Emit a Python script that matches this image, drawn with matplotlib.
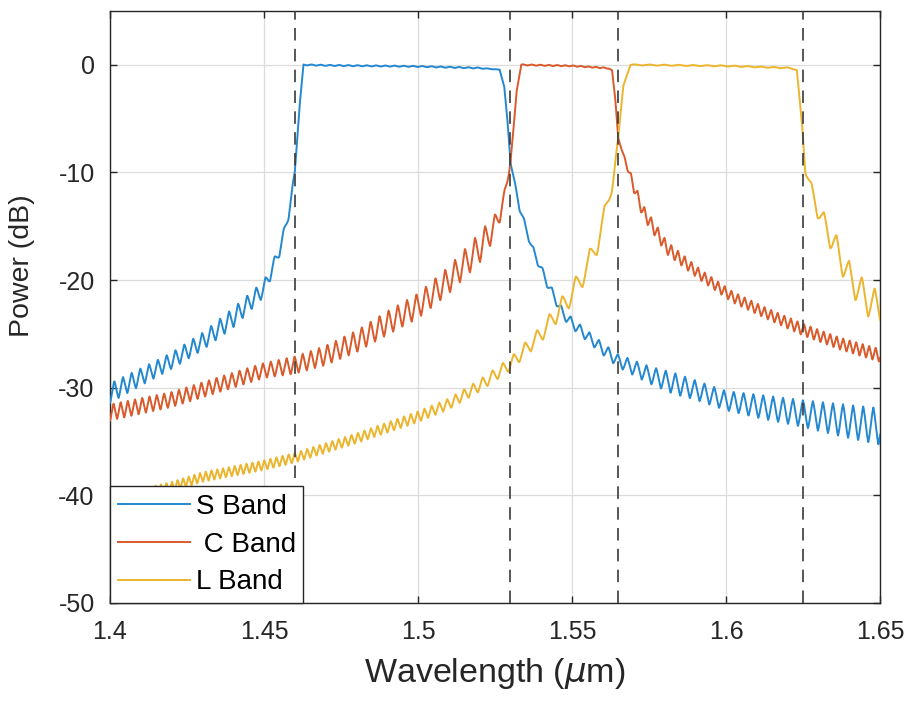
import numpy as np
import matplotlib
matplotlib.use("Agg")
import matplotlib.pyplot as plt

# ---------------- data ----------------
# Each band: wavelength points (um), mean power (dB), ripple peak-to-peak (dB)
s_wl  = [1.400, 1.410, 1.420, 1.430, 1.440, 1.450, 1.455, 1.458, 1.460, 1.4615, 1.4628,
         1.470, 1.500, 1.520, 1.5265, 1.528, 1.529, 1.530, 1.533, 1.537, 1.542, 1.547,
         1.550, 1.555, 1.560, 1.565, 1.575, 1.583, 1.590, 1.600, 1.612, 1.625, 1.637, 1.650]
s_db  = [-30.5, -29.0, -27.5, -25.7, -23.5, -20.8, -17.3, -13.9, -10.0, -4.0, 0.0,
         -0.05, -0.15, -0.3, -0.45, -2.0, -5.0, -9.0, -13.3, -17.0, -20.3, -23.1,
         -24.0, -25.2, -26.4, -27.5, -28.8, -29.6, -30.2, -31.2, -31.8, -32.4, -33.0, -33.6]
s_rip = [1.8, 1.6, 1.5, 1.6, 1.8, 1.5, 1.0, 0.8, 0.3, 0.0, 0.1,
         0.1, 0.1, 0.1, 0.0, 0.0, 0.0, 0.2, 0.6, 0.7, 0.8, 0.9,
         1.0, 1.0, 1.1, 1.2, 1.6, 2.0, 1.8, 1.8, 2.2, 2.5, 3.0, 3.4]
s_per_wl = [1.40, 1.46, 1.53, 1.65]
s_per    = [0.0028, 0.0030, 0.0030, 0.0033]

c_wl  = [1.400, 1.420, 1.440, 1.450, 1.460, 1.470, 1.480, 1.490, 1.500, 1.510, 1.520,
         1.525, 1.528, 1.530, 1.531, 1.532, 1.5335, 1.550, 1.5615, 1.563, 1.564, 1.565,
         1.5666, 1.5698, 1.573, 1.5808, 1.5916, 1.6023, 1.6132, 1.625, 1.637, 1.650]
c_db  = [-32.3, -31.1, -29.3, -28.4, -27.9, -27.0, -25.7, -24.0, -22.4, -20.0, -17.0,
         -15.0, -12.5, -9.0, -6.0, -2.5, 0.0, -0.1, -0.3, -0.5, -3.0, -6.8,
         -8.3, -11.1, -13.6, -17.0, -19.5, -21.6, -23.1, -24.6, -25.9, -27.0]
c_rip = [1.5, 1.4, 1.4, 1.4, 1.6, 1.8, 2.0, 2.2, 2.3, 2.5, 2.8,
         2.2, 1.5, 0.3, 0.0, 0.0, 0.1, 0.1, 0.1, 0.0, 0.0, 0.0,
         0.2, 1.0, 1.2, 1.2, 1.0, 1.0, 1.0, 1.1, 1.1, 1.2]
c_per_wl = [1.40, 1.46, 1.52, 1.53, 1.566, 1.65]
c_per    = [0.0023, 0.0026, 0.0033, 0.0030, 0.0022, 0.0021]

l_wl  = [1.400, 1.420, 1.430, 1.450, 1.460, 1.480, 1.500, 1.510, 1.520, 1.530, 1.540,
         1.545, 1.550, 1.555, 1.560, 1.5633, 1.565, 1.5666, 1.569, 1.600, 1.621, 1.623,
         1.6247, 1.6257, 1.6295, 1.6347, 1.6403, 1.6457, 1.650]
l_db  = [-40.5, -39.2, -38.3, -37.2, -36.5, -34.7, -32.7, -31.5, -29.8, -27.8, -25.0,
         -23.1, -21.3, -18.8, -15.0, -10.5, -7.0, -2.0, 0.0, -0.1, -0.3, -0.5,
         -5.5, -9.6, -13.3, -16.4, -19.8, -21.8, -22.6]
l_rip = [0.9, 0.9, 0.9, 0.9, 0.9, 0.9, 1.0, 1.0, 1.1, 1.2, 1.5,
         1.8, 2.0, 2.2, 2.5, 1.5, 0.5, 0.0, 0.1, 0.1, 0.1, 0.0,
         0.0, 0.8, 1.5, 2.5, 2.8, 3.0, 3.0]
l_per_wl = [1.40, 1.50, 1.54, 1.565, 1.625, 1.65]
l_per    = [0.0017, 0.0022, 0.0040, 0.0050, 0.0040, 0.0042]

band_names = ["S Band", " C Band", "L Band"]
band_colors = ["#2488d0", "#d95a2b", "#ecb52e"]
edge_wl = [1.46, 1.53, 1.565, 1.625]

x_ticks = [1.4, 1.45, 1.5, 1.55, 1.6, 1.65]
x_ticklabels = ["1.4", "1.45", "1.5", "1.55", "1.6", "1.65"]
y_ticks = [-50, -40, -30, -20, -10, 0]
y_ticklabels = ["-50", "-40", "-30", "-20", "-10", "0"]

# ---------------- build traces ----------------
wl = np.linspace(1.4, 1.65, 8000)


def trace(pts_wl, pts_db, pts_rip, per_wl, per):
    mean = np.interp(wl, pts_wl, pts_db)
    amp = np.interp(wl, pts_wl, pts_rip)
    period = np.interp(wl, per_wl, per)
    phase = np.concatenate([[0.0], np.cumsum(np.diff(wl) / period[1:])])
    tri = 2.0 * np.abs(2.0 * (phase - np.floor(phase + 0.5))) - 1.0
    cosw = -np.cos(2 * np.pi * phase)
    return mean + 0.5 * amp * (0.6 * tri + 0.4 * cosw)


bands = [trace(s_wl, s_db, s_rip, s_per_wl, s_per),
         trace(c_wl, c_db, c_rip, c_per_wl, c_per),
         trace(l_wl, l_db, l_rip, l_per_wl, l_per)]

# ---------------- draw ----------------
plt.rcParams["font.family"] = ["Liberation Sans", "DejaVu Sans"]
fig = plt.figure(figsize=(9.14, 7.02), dpi=100)
ax = fig.add_axes([110 / 914, 1 - 603 / 702, 770 / 914, 592 / 702])

for y, name, col in zip(bands, band_names, band_colors):
    ax.plot(wl, y, color=col, lw=1.4, label=name, zorder=3)

for e in edge_wl:
    ax.axvline(e, color="#3a3a3a", lw=1.2, dashes=(7.5, 5.0), zorder=4)

ax.set_xlim(1.4, 1.65)
ax.set_ylim(-50, 5)
ax.set_xticks(x_ticks)
ax.set_xticklabels(x_ticklabels)
ax.set_yticks(y_ticks)
ax.set_yticklabels(y_ticklabels)
ax.grid(True, color="#dcdcdc", lw=0.9, zorder=0)
ax.set_axisbelow(True)
ax.tick_params(direction="in", length=5, width=1, colors="#262626",
               top=True, right=True, labelsize=18)
ax.tick_params(axis="x", pad=12)
ax.tick_params(axis="y", pad=11)
for sp in ax.spines.values():
    sp.set_color("#262626")
    sp.set_linewidth(1.0)

ax.set_xlabel(r"Wavelength ($\mu$m)", fontsize=24.5, color="#262626", labelpad=9)
ax.set_ylabel("Power (dB)", fontsize=20.5, color="#262626")
ax.yaxis.set_label_coords(-0.097, 0.57)

leg = ax.legend(loc="lower left", fontsize=20, frameon=True, fancybox=False,
                borderaxespad=0, handlelength=2.6, handletextpad=0.2,
                labelspacing=0.42, borderpad=0.28)
leg.get_frame().set_edgecolor("#262626")
leg.get_frame().set_linewidth(1.0)
leg.get_frame().set_alpha(1.0)
leg.set_zorder(10)

fig.savefig("out.png", dpi=100)
